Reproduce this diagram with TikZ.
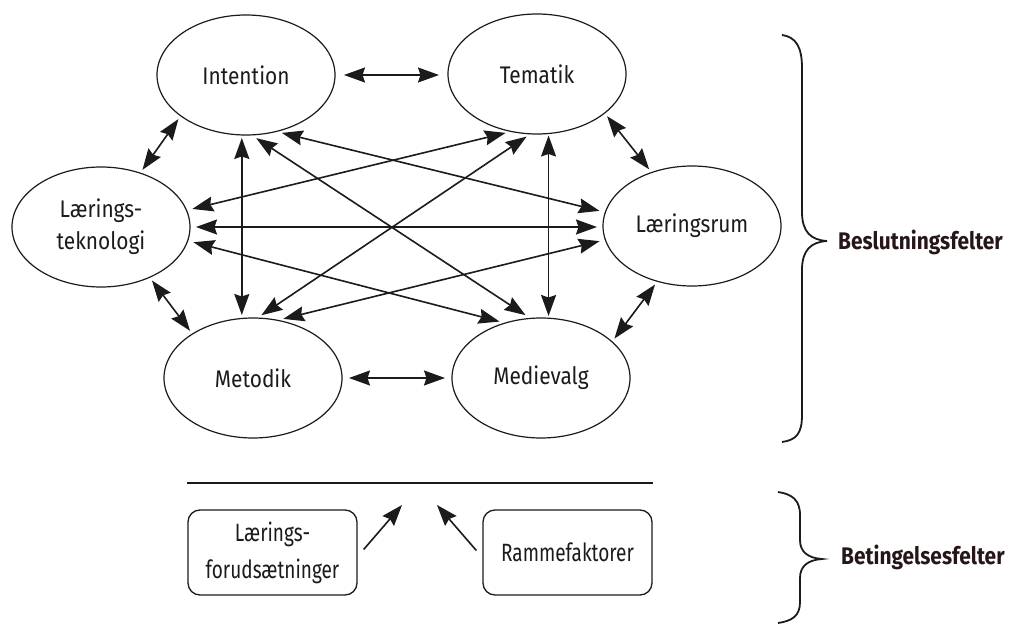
\documentclass[tikz,border=0pt]{standalone}
\usepackage{fontspec}
\setmainfont{Fira Sans}[FakeStretch=0.87]
\newfontfamily\narrowsans{Fira Sans}[FakeStretch=0.76]
\usetikzlibrary{shapes.geometric,arrows.meta}

\definecolor{ink}{RGB}{28,26,26}
\definecolor{labelink}{RGB}{38,22,24}

\tikzset{
  head/.tip={Stealth[length=21pt,width=15pt,inset=2.5pt]},
}

\begin{document}
\begin{tikzpicture}[x=1pt,y=-1pt,
  field/.style={ellipse, draw=ink, line width=1.2pt, minimum width=178pt,
    minimum height=120pt, inner sep=0pt, outer sep=0pt, text=ink,
    font=\fontsize{24}{32}\selectfont, align=center},
  factor/.style={rectangle, rounded corners=12pt, draw=ink, line width=1.3pt,
    minimum width=169pt, minimum height=85pt, inner sep=0pt, text=ink,
    font=\narrowsans\fontsize{25}{37}\selectfont, align=center},
  link/.style={head-head, line width=1.6pt, draw=ink, shorten <=#1, shorten >=#1},
  link/.default=5pt,
  feed/.style={-head, line width=1.6pt, draw=ink},
  brace/.style={line width=1.8pt, draw=ink},
  fieldlabel/.style={anchor=west, inner sep=0pt, text=labelink,
    font=\fontsize{24}{28}\selectfont\bfseries}]

% canvas
\fill[white] (0,0) rectangle (1012,626);
\useasboundingbox (0,0) rectangle (1012,626);

% decision fields
\node[field] (I)  at (246,75)  {Intention};
\node[field] (T)  at (537,74)  {Tematik};
\node[field] (Lt) at (101,227) {Lærings-\\teknologi};
\node[field] (Lr) at (692,226) {Læringsrum};
\node[field] (M)  at (253,378) {Metodik};
\node[field] (Md) at (541,378) {Medievalg};

% neighbours
\draw[link=9pt] (I.east) -- (I.east -| T.west);
\draw[link=7pt] (M.east) -- (Md.west);
\draw[link=4pt] (I.212) -- (Lt.54);
\draw[link=4pt] (Lt.314) -- (M.144);
\draw[link=4pt] (T.330) -- (Lr.127);
\draw[link=4pt] (Lr.238) -- (Md.27);

% verticals
\draw[link=3pt] (I.266) -- (I.266 |- M.north);
\draw[link=2pt] (T.281) -- (T.281 |- Md.north);

% horizontal through the middle
\draw[link=6pt] (Lt.east) -- (Lt.east -| Lr.west);

% crossing diagonals
\draw[link=6pt] (I.275) -- (Md.100);
\draw[link=6pt] (I.298) -- (Lr.171);
\draw[link=6pt] (T.246) -- (Lt.11);
\draw[link=5pt] (T.264) -- (M.86);
\draw[link=6pt] (Lt.351) -- (Md.123);
\draw[link=6pt] (Lr.189) -- (M.67);

% condition fields
\coordinate (baseL) at (187,483);
\coordinate (baseR) at (653,483);
\draw[line width=1.4pt, draw=ink] (baseL) -- (baseR);

\node[factor] (LF) at (272.5,552.5) {Lærings-\\forudsætninger};
\node[factor] (RF) at (567.5,552.5) {Rammefaktorer};

\coordinate (inL) at (402,505);
\coordinate (inR) at (437,505);
\draw[feed] ([xshift=6pt,yshift=3pt]LF.east) -- (inL);
\draw[feed] ([xshift=-6pt,yshift=2pt]RF.west) -- (inR);

% braces
\draw[brace] (782,35) .. controls (796,37) and (802,47) .. (802,68)
  -- (802,212) .. controls (802,232) and (811,240) .. (827,241)
  .. controls (811,242) and (802,250) .. (802,270)
  -- (802,415) .. controls (802,434) and (796,440) .. (782,442);
\draw[brace] (778,492) .. controls (792,494) and (800,500) .. (800,515)
  -- (800,540) .. controls (800,552) and (808,558) .. (822,559)
  .. controls (808,560) and (800,566) .. (800,578)
  -- (800,602) .. controls (800,616) and (792,621) .. (778,623);

\node[fieldlabel] (bl) at (838,242) {Beslutningsfelter};
\node[fieldlabel] (bt) at (841,557) {Betingelsesfelter};

\end{tikzpicture}
\end{document}
